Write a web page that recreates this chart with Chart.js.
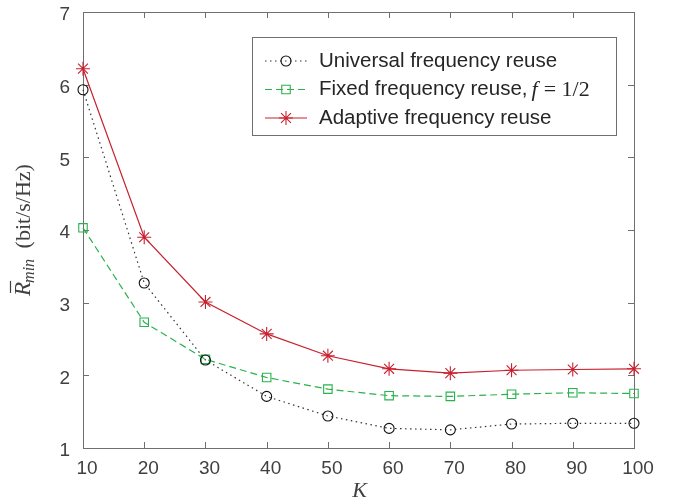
<!DOCTYPE html>
<html>
<head>
<meta charset="utf-8">
<script src="https://cdn.jsdelivr.net/npm/chart.js@4.4.0/dist/chart.umd.min.js"></script>
<style>
  html, body { margin: 0; padding: 0; background: #fff; }
</style>
</head>
<body>
<canvas id="rminChart" width="680" height="504"></canvas>
<script>
// dados
const kValues = [10, 20, 30, 40, 50, 60, 70, 80, 90, 100];
const universalReuse = [5.93, 3.27, 2.21, 1.71, 1.44, 1.27, 1.25, 1.33, 1.34, 1.34];
const fixedReuse = [4.03, 2.73, 2.22, 1.97, 1.81, 1.72, 1.71, 1.74, 1.76, 1.75];
const adaptiveReuse = [6.22, 3.90, 3.01, 2.57, 2.27, 2.09, 2.03, 2.07, 2.08, 2.09];
const xTicks = [10, 20, 30, 40, 50, 60, 70, 80, 90, 100];
const yTicks = [1, 2, 3, 4, 5, 6, 7];
const seriesNames = ["Universal frequency reuse", "Fixed frequency reuse,", "Adaptive frequency reuse"];

const axisColor = "#6f6f6f";
const labelColor = "#404040";
const greenColor = "rgb(40,178,76)";
const redColor = "rgb(200,32,46)";

// caixa dos eixos com ticks para dentro (estilo MATLAB)
const boxPlugin = {
  id: "boxPlugin",
  beforeDatasetsDraw(chart) {
    const { ctx, chartArea: a, scales } = chart;
    ctx.save();
    ctx.strokeStyle = axisColor;
    ctx.lineWidth = 1;
    ctx.strokeRect(a.left + 0.5, a.top + 0.5, a.right - a.left, a.bottom - a.top);
    ctx.beginPath();
    xTicks.forEach((v) => {
      const x = Math.round(scales.x.getPixelForValue(v)) + 0.5;
      ctx.moveTo(x, a.bottom); ctx.lineTo(x, a.bottom - 6);
      ctx.moveTo(x, a.top); ctx.lineTo(x, a.top + 6);
    });
    yTicks.forEach((v) => {
      const y = Math.round(scales.y.getPixelForValue(v)) + 0.5;
      ctx.moveTo(a.left, y); ctx.lineTo(a.left + 6, y);
      ctx.moveTo(a.right, y); ctx.lineTo(a.right - 6, y);
    });
    ctx.stroke();
    ctx.restore();
  },
  afterDraw(chart) {
    const { ctx, chartArea: a } = chart;
    ctx.save();
    ctx.fillStyle = labelColor;

    // rótulo do eixo x
    ctx.font = "italic 22px 'Liberation Serif'";
    ctx.textAlign = "center";
    ctx.textBaseline = "middle";
    ctx.fillText("K", (a.left + a.right) / 2 + 1, 491);

    // rótulo do eixo y: R barra com subscrito min
    const mainFont = "italic 23px 'Liberation Serif'";
    const subFont = "italic 16px 'Liberation Serif'";
    const unitFont = "22px 'Liberation Serif'";
    ctx.font = mainFont; const wR = ctx.measureText("R").width;
    ctx.font = subFont; const wSub = ctx.measureText("min").width;
    ctx.font = unitFont; const unitText = " (bit/s/Hz)"; const wUnit = ctx.measureText(unitText).width;
    const total = wR + wSub + 4 + wUnit;
    ctx.translate(30, (a.top + a.bottom) / 2);
    ctx.rotate(-Math.PI / 2);
    let x = -total / 2;
    ctx.textAlign = "left";
    ctx.textBaseline = "alphabetic";
    ctx.font = mainFont;
    ctx.fillText("R", x, 0);
    ctx.strokeStyle = labelColor;
    ctx.lineWidth = 1.2;
    ctx.beginPath();
    ctx.moveTo(x + 3, -19.5); ctx.lineTo(x + wR + 1, -19.5);
    ctx.stroke();
    x += wR - 1;
    ctx.font = subFont;
    ctx.fillText("min", x, 4);
    x += wSub + 5;
    ctx.font = unitFont;
    ctx.fillText(unitText, x, 0);
    ctx.restore();

    // legenda
    ctx.save();
    const bx = 252, by = 37, bw = 364, bh = 98;
    ctx.fillStyle = "#fff";
    ctx.fillRect(bx, by, bw, bh);
    ctx.strokeStyle = axisColor;
    ctx.lineWidth = 1;
    ctx.strokeRect(bx + 0.5, by + 0.5, bw, bh);
    const rows = [61, 89.5, 118];
    chart.data.datasets.forEach((ds, i) => {
      const y = rows[i];
      ctx.strokeStyle = ds.borderColor;
      ctx.lineWidth = ds.borderWidth;
      ctx.setLineDash(ds.borderDash || []);
      ctx.beginPath();
      ctx.moveTo(265, y); ctx.lineTo(307, y);
      ctx.stroke();
      ctx.setLineDash([]);
      ctx.strokeStyle = ds.pointBorderColor;
      ctx.fillStyle = "rgba(0,0,0,0)";
      ctx.lineWidth = ds.pointBorderWidth;
      Chart.helpers.drawPoint(ctx, {
        pointStyle: ds.pointStyle, radius: ds.pointRadius, borderWidth: ds.pointBorderWidth, rotation: 0
      }, 286, y);
      ctx.fillStyle = "#262626";
      ctx.font = "20.5px 'Liberation Sans', Arial, sans-serif";
      ctx.textAlign = "left";
      ctx.textBaseline = "middle";
      ctx.fillText(seriesNames[i], 319, y);
      if (i === 1) {
        let tx = 319 + ctx.measureText(seriesNames[i]).width + 4;
        ctx.font = "italic 22px 'Liberation Serif'";
        ctx.fillText("f", tx, y + 1);
        tx += ctx.measureText("f").width + 6;
        ctx.font = "22px 'Liberation Serif'";
        ctx.fillText("= 1/2", tx, y + 1);
      }
    });
    ctx.restore();
  }
};

const ctx = document.getElementById("rminChart");
new Chart(ctx, {
  type: "line",
  data: {
    labels: kValues,
    datasets: [
      {
        label: seriesNames[0],
        data: kValues.map((k, i) => ({ x: k, y: universalReuse[i] })),
        borderColor: "#333",
        borderWidth: 1.2,
        borderDash: [1.5, 3.5],
        pointStyle: "circle",
        pointRadius: 5,
        pointBorderColor: "#111",
        pointBackgroundColor: "rgba(0,0,0,0)",
        pointBorderWidth: 1.1,
        tension: 0
      },
      {
        label: seriesNames[1],
        data: kValues.map((k, i) => ({ x: k, y: fixedReuse[i] })),
        borderColor: greenColor,
        borderWidth: 1.2,
        borderDash: [7, 4],
        pointStyle: "rect",
        pointRadius: 6,
        pointBorderColor: greenColor,
        pointBackgroundColor: "rgba(0,0,0,0)",
        pointBorderWidth: 1.1,
        tension: 0
      },
      {
        label: seriesNames[2],
        data: kValues.map((k, i) => ({ x: k, y: adaptiveReuse[i] })),
        borderColor: redColor,
        borderWidth: 1.2,
        pointStyle: "star",
        pointRadius: 7,
        pointBorderColor: redColor,
        pointBackgroundColor: "rgba(0,0,0,0)",
        pointBorderWidth: 1.1,
        tension: 0
      }
    ]
  },
  options: {
    responsive: false,
    animation: false,
    devicePixelRatio: 1,
    clip: false,
    layout: { padding: { top: 12, right: 46, left: 0, bottom: 0 } },
    plugins: {
      legend: { display: false },
      tooltip: { enabled: false }
    },
    scales: {
      x: {
        type: "linear",
        min: 10,
        max: 100,
        afterBuildTicks: (scale) => { scale.ticks = xTicks.map((v) => ({ value: v })); },
        afterFit: (scale) => { scale.height = 56; scale.paddingLeft = 0; scale.paddingRight = 0; },
        grid: { display: false, drawTicks: false },
        border: { display: false },
        ticks: {
          color: labelColor,
          font: { family: "'Liberation Sans', Arial, sans-serif", size: 19 },
          padding: 9,
          labelOffset: 4,
          maxRotation: 0
        }
      },
      y: {
        min: 1,
        max: 7,
        afterBuildTicks: (scale) => { scale.ticks = yTicks.map((v) => ({ value: v })); },
        afterFit: (scale) => { scale.width = 83; scale.paddingTop = 0; scale.paddingBottom = 0; },
        grid: { display: false, drawTicks: false },
        border: { display: false },
        ticks: {
          color: labelColor,
          font: { family: "'Liberation Sans', Arial, sans-serif", size: 19 },
          padding: 13,
          labelOffset: 3
        }
      }
    }
  },
  plugins: [boxPlugin]
});
</script>
</body>
</html>
